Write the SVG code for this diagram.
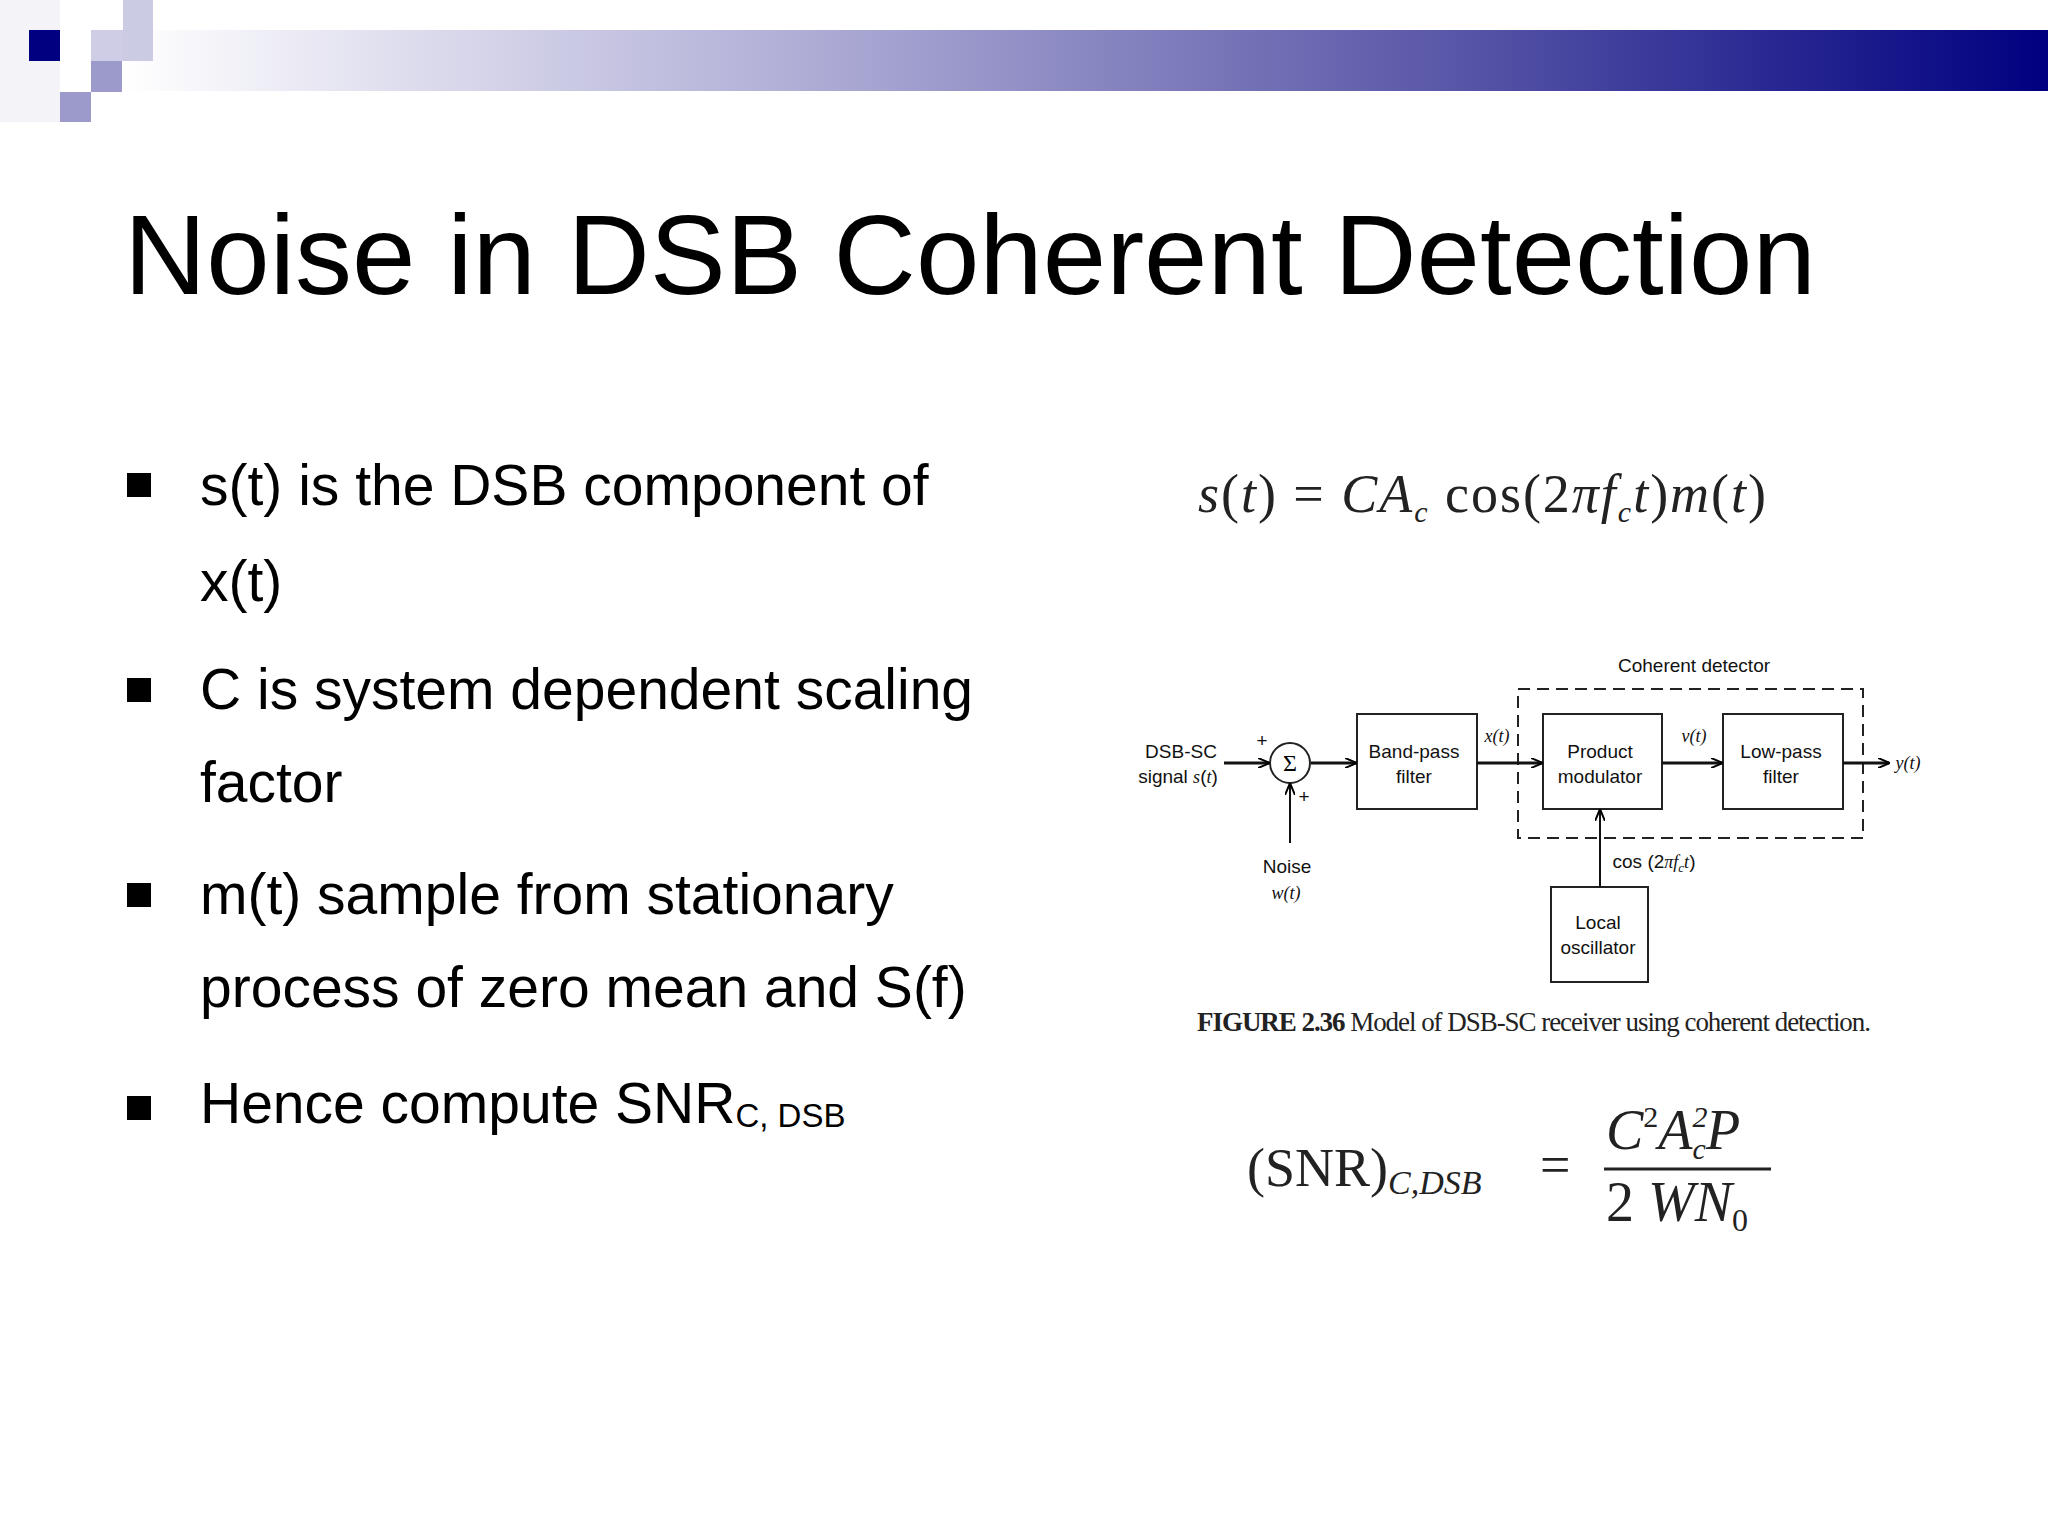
<svg xmlns="http://www.w3.org/2000/svg" width="2048" height="1536" viewBox="0 0 2048 1536">
<defs>
<linearGradient id="bar" x1="0" x2="1" y1="0" y2="0">
<stop offset="0" stop-color="#ffffff"/><stop offset="0.35" stop-color="#b0aed6"/><stop offset="0.7" stop-color="#5654a6"/><stop offset="1" stop-color="#000080"/>
</linearGradient>
<marker id="ar" markerWidth="12" markerHeight="10" refX="11" refY="5" orient="auto" markerUnits="userSpaceOnUse">
<path d="M0,0 L12,5 L0,10" fill="none" stroke="#000" stroke-width="2"/>
</marker>
<style>
.t{font-family:"Liberation Sans",Arial,sans-serif;fill:#000}
.d{font-family:"Liberation Sans Narrow","Liberation Sans",sans-serif;font-size:19px;fill:#111;text-anchor:middle}
.i{font-family:"Liberation Serif",serif;font-style:italic;font-size:18px;fill:#111}
.m{font-family:"Liberation Serif","Times New Roman",serif;fill:#222}
.box{fill:#fff;stroke:#222;stroke-width:2}
.ln{stroke:#111;stroke-width:3;fill:none}
</style>
</defs>
<rect width="2048" height="1536" fill="#fff"/>
<g id="deco">
<rect x="124" y="30" width="1924" height="61" fill="url(#bar)"/>
<rect x="0" y="0" width="60" height="122" fill="#f3f3f8"/>
<rect x="29" y="30" width="31" height="31" fill="#000080"/>
<rect x="91" y="30" width="32" height="31" fill="#cfcde6"/>
<rect x="123" y="0" width="30" height="61" fill="#cccbe4"/>
<rect x="91" y="61" width="31" height="31" fill="#9c9acb"/>
<rect x="60" y="92" width="31" height="30" fill="#9c9acb"/>
</g>
<text class="t" x="124" y="294" font-size="114">Noise in DSB Coherent Detection</text>
<g id="bullets" class="t" font-size="57">
<rect x="127" y="473" width="24" height="24"/>
<rect x="127" y="678" width="24" height="24"/>
<rect x="127" y="883" width="24" height="24"/>
<rect x="127" y="1096" width="24" height="24"/>
<text x="200" y="505">s(t) is the DSB component of</text>
<text x="200" y="601">x(t)</text>
<text x="200" y="709">C is system dependent scaling</text>
<text x="200" y="802">factor</text>
<text x="200" y="914">m(t) sample from stationary</text>
<text x="200" y="1007">process of zero mean and S(f)</text>
<text x="200" y="1123">Hence compute SNR<tspan font-size="33" dy="4">C, DSB</tspan></text>
</g>
<text class="m" x="1198" y="512" font-size="54" textLength="568"><tspan font-style="italic">s</tspan>(<tspan font-style="italic">t</tspan>) = <tspan font-style="italic">CA<tspan font-size="30" dy="10">c</tspan></tspan><tspan dy="-10"> cos(2</tspan><tspan font-style="italic">πf<tspan font-size="30" dy="10">c</tspan><tspan dy="-10">t</tspan></tspan>)<tspan font-style="italic">m</tspan>(<tspan font-style="italic">t</tspan>)</text>
<g id="formula2" class="m">
<text x="1247" y="1186" font-size="54">(SNR)<tspan font-style="italic" font-size="34" dy="8">C,DSB</tspan></text>
<text x="1540" y="1183" font-size="54">=</text>
<line x1="1604" y1="1169" x2="1771" y2="1169" stroke="#222" stroke-width="3"/>
<text x="1606" y="1149" font-size="56" font-style="italic">C<tspan font-size="30" font-style="normal" dy="-22">2</tspan><tspan dy="22">A</tspan><tspan font-size="30" dy="-22">2</tspan><tspan font-size="30" dx="-15" dy="32">c</tspan><tspan dy="-10">P</tspan></text>
<text x="1606" y="1221" font-size="56">2<tspan font-style="italic"> WN</tspan><tspan font-size="32" dy="10">0</tspan></text>
</g>
<rect id="coherent" x="1518" y="689" width="345" height="149" fill="none" stroke="#222" stroke-width="2" stroke-dasharray="12,7"/>
<g id="sum"><circle cx="1290" cy="763" r="20" class="box"/><text x="1290" y="771" font-size="24" text-anchor="middle" font-family="Liberation Serif,serif">Σ</text></g>
<g id="bpf"><rect x="1357" y="714" width="120" height="95" class="box"/><text class="d" x="1414" y="758">Band-pass</text><text class="d" x="1414" y="783">filter</text></g>
<g id="product"><rect x="1543" y="714" width="119" height="95" class="box"/><text class="d" x="1600" y="758">Product</text><text class="d" x="1600" y="783">modulator</text></g>
<g id="lowpass"><rect x="1723" y="714" width="120" height="95" class="box"/><text class="d" x="1781" y="758">Low-pass</text><text class="d" x="1781" y="783">filter</text></g>
<g id="lo"><rect x="1551" y="887" width="97" height="95" class="box"/><text class="d" x="1598" y="929">Local</text><text class="d" x="1598" y="954">oscillator</text></g>
<g id="connectors" class="ln">
<line x1="1224" y1="763" x2="1269" y2="763" marker-end="url(#ar)"/>
<line x1="1311" y1="763" x2="1356" y2="763" marker-end="url(#ar)"/>
<line x1="1477" y1="763" x2="1542" y2="763" marker-end="url(#ar)"/>
<line x1="1662" y1="763" x2="1722" y2="763" marker-end="url(#ar)"/>
<line x1="1843" y1="763" x2="1889" y2="763" marker-end="url(#ar)"/>
<line x1="1290" y1="843" x2="1290" y2="784" marker-end="url(#ar)" stroke-width="2"/>
<line x1="1600" y1="887" x2="1600" y2="810" marker-end="url(#ar)" stroke-width="2"/>
</g>
<g id="labels">
<text class="d" x="1181" y="758">DSB-SC</text>
<text class="d" x="1178" y="783">signal <tspan class="i">s</tspan>(<tspan class="i">t</tspan>)</text>
<text class="d" x="1262" y="747" font-size="16">+</text>
<text class="d" x="1304" y="803" font-size="16">+</text>
<text class="d" x="1287" y="873">Noise</text>
<text class="i" x="1286" y="899" text-anchor="middle">w(t)</text>
<text class="i" x="1497" y="742" text-anchor="middle">x(t)</text>
<text class="i" x="1694" y="742" text-anchor="middle">v(t)</text>
<text class="i" x="1908" y="769" text-anchor="middle">y(t)</text>
<text class="d" x="1694" y="672">Coherent detector</text>
<text class="d" x="1654" y="868">cos (2<tspan class="i">πf<tspan font-size="13" dy="4">c</tspan><tspan dy="-4">t</tspan></tspan>)</text>
</g>
<text class="m" x="1197" y="1031" font-size="27" textLength="674" fill="#111"><tspan font-weight="bold">FIGURE 2.36</tspan>   Model of DSB-SC receiver using coherent detection.</text>
</svg>
